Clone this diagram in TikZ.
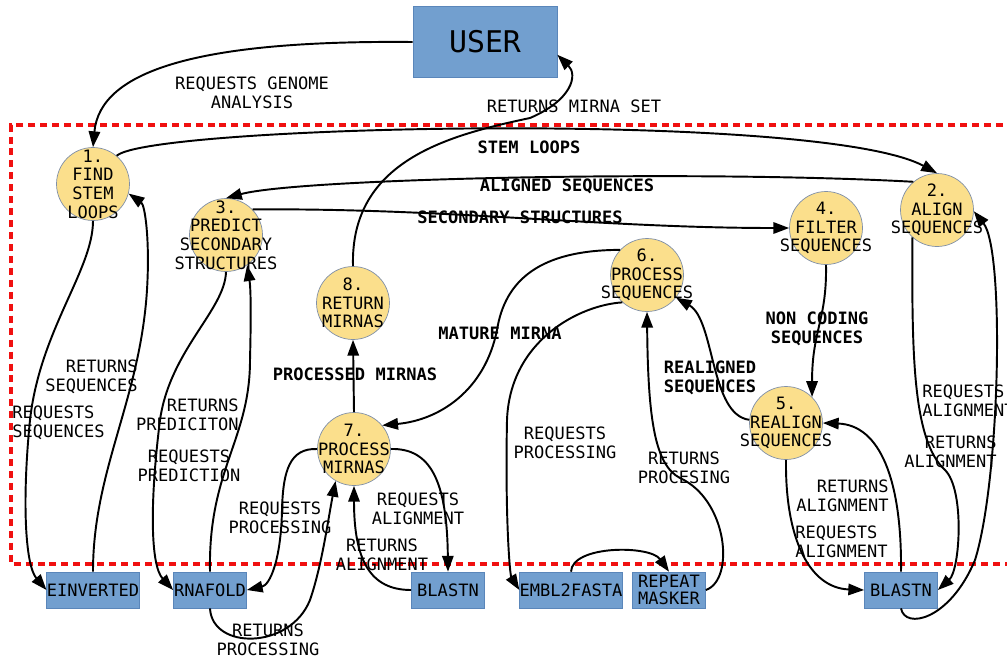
\documentclass[tikz,border=0pt]{standalone}
\usepackage{fontspec}
\setmonofont{DejaVu Sans Mono}
\usetikzlibrary{arrows.meta}
\definecolor{procfill}{HTML}{FBDF8C}
\definecolor{procline}{HTML}{8090A8}
\definecolor{extfill}{HTML}{729FCF}
\definecolor{extline}{HTML}{5A86BA}
\definecolor{bound}{HTML}{F01010}

\begin{document}
\begin{tikzpicture}[x=0.02cm, y=-0.02cm,
  every node/.style={font=\ttfamily\fontsize{9.7}{10.6}\selectfont},
  proc/.style={circle, draw=procline, fill=procfill, minimum size=1.46cm, inner sep=-22pt, align=center},
  ext/.style={draw=extline, fill=extfill, minimum width=1.46cm, minimum height=0.72cm, inner sep=0pt, align=center, font=\ttfamily\fontsize{9.7}{9.6}\selectfont},
  flow/.style={line width=1.1pt, -{Triangle[length=9pt,width=6.5pt]}},
  lbl/.style={align=center, inner sep=0pt},
  blbl/.style={lbl, font=\ttfamily\bfseries\fontsize{9.7}{10.8}\selectfont}]
\useasboundingbox (0,0) rectangle (1007,660);
\draw[bound, line width=2pt, dash pattern=on 4pt off 2.8pt] (1015,125) -| (11,564) -- (1015,564);

\path (485,42) node[ext, minimum width=2.88cm, minimum height=1.42cm, font=\ttfamily\fontsize{17}{18}\selectfont] (user) {USER};

\path (93,184) node[proc] (find) {1.\\FIND\\STEM\\LOOPS};
\path (937,210) node[proc] (align) {2.\\ALIGN\\SEQUENCES};
\path (226,235) node[proc] (predict) {3.\\PREDICT\\SECONDARY\\STRUCTURES};
\path (826,228) node[proc] (filter) {4.\\FILTER\\SEQUENCES};
\path (786,423) node[proc] (realign) {5.\\REALIGN\\SEQUENCES};
\path (647,275) node[proc] (procseq) {6.\\PROCESS\\SEQUENCES};
\path (354,449) node[proc] (procmir) {7.\\PROCESS\\MIRNAS};
\path (353,303) node[proc] (retmir) {8.\\RETURN\\MIRNAS};

\path (93,590) node[ext] (einv) {EINVERTED};
\path (210,590) node[ext] (rnafold) {RNAFOLD};
\path (448,590) node[ext] (blastA) {BLASTN};
\path (571,590) node[ext] (embl) {EMBL2FASTA};
\path (669,590) node[ext] (repeat) {REPEAT\\MASKER};
\path (901,590) node[ext] (blastB) {BLASTN};

\draw[flow] (user.west) .. controls (200,40) and (100,70) .. (find.north);
\draw[flow] (retmir.north) .. controls (350,160) and (450,135) .. (530,118) .. controls (572,100) and (578,75) .. (user.-10);
\draw[flow] (find.50) .. controls (150,125) and (820,110) .. (align.north);
\draw[flow] (align.130) .. controls (700,170) and (300,178) .. (predict.north);
\draw[flow] (predict.44) .. controls (450,208) and (600,228) .. (filter.west);
\draw[flow] (filter.south) .. controls (827,320) and (812,330) .. (realign.45);
\draw[flow] (realign.175) .. controls (710,415) and (715,320) .. (procseq.-38);
\draw[flow] (procseq.137) .. controls (540,250) and (505,280) .. (497,330) .. controls (485,390) and (440,420) .. (procmir.40);
\draw[flow] (procmir.north) -- (retmir.south);

\draw[flow] (find.south) .. controls (93,270) and (40,330) .. (30,420) .. controls (22,500) and (25,565) .. (einv.west);
\draw[flow] (einv.north) .. controls (93,470) and (140,400) .. (147,290) .. controls (150,240) and (145,205) .. (find.-15);
\draw[flow] (predict.south) .. controls (225,310) and (170,350) .. (160,420) .. controls (150,500) and (150,565) .. (rnafold.west);
\draw[flow] (rnafold.north) .. controls (208,470) and (250,440) .. (250,360) .. controls (251,320) and (251,290) .. (predict.-55);
\draw[flow] (procmir.west) .. controls (290,448) and (283,470) .. (282,510) .. controls (281,560) and (270,585) .. (rnafold.east);
\draw[flow] (rnafold.south) .. controls (212,650) and (290,650) .. (310,600) .. controls (322,565) and (328,520) .. (procmir.-120);
\draw[flow] (procmir.east) .. controls (430,448) and (447,480) .. (blastA.north);
\draw[flow] (blastA.west) .. controls (370,590) and (354,560) .. (procmir.south);
\draw[flow] (procseq.228) .. controls (580,305) and (510,340) .. (507,420) .. controls (505,520) and (510,575) .. (embl.west);
\draw[flow] (embl.north) .. controls (572,545) and (650,545) .. (repeat.north);
\draw[flow] (repeat.east) .. controls (735,580) and (728,500) .. (680,478) .. controls (655,465) and (648,420) .. (procseq.south);
\draw[flow] (realign.south) .. controls (785,540) and (810,588) .. (blastB.west);
\draw[flow] (blastB.north) .. controls (902,480) and (880,425) .. (realign.east);
\draw[flow] (align.228) .. controls (912,350) and (912,440) .. (945,470) .. controls (965,490) and (960,570) .. (blastB.east);
\draw[flow] (blastB.south) .. controls (905,630) and (950,620) .. (975,560) .. controls (1000,480) and (1005,250) .. (align.-2);

\path (252,93) node[lbl] (lgenome) {REQUESTS GENOME\\ANALYSIS};
\path (574,106) node[lbl] (lmirset) {RETURNS MIRNA SET};
\path (529,147) node[blbl] (lstem) {STEM LOOPS};
\path (567,186) node[blbl] (laligned) {ALIGNED SEQUENCES};
\path (520,217) node[blbl] (lsecond) {SECONDARY STRUCTURES};
\path (817,329) node[blbl] (lnoncod) {NON CODING\\SEQUENCES};
\path (710,378) node[blbl] (lrealign) {REALIGNED\\SEQUENCES};
\path (500,333) node[blbl] (lmature) {MATURE MIRNA};
\path (355,374) node[blbl] (lprocmir) {PROCESSED MIRNAS};

\path (138,377) node[lbl, align=right, anchor=east] (lretseq) {RETURNS\\SEQUENCES};
\path (12,423) node[lbl, align=left, anchor=west] (lreqseq) {REQUESTS\\SEQUENCES};
\path (239,415) node[lbl, align=right, anchor=east] (lretpred) {RETURNS\\PREDICITON};
\path (189,466) node[lbl] (lreqpred) {REQUESTS\\PREDICTION};
\path (280,518) node[lbl] (lreqproc) {REQUESTS\\PROCESSING};
\path (268,640) node[lbl] (lretproc) {RETURNS\\PROCESSING};
\path (418,509) node[lbl] (lreqalA) {REQUESTS\\ALIGNMENT};
\path (382,555) node[lbl] (lretalA) {RETURNS\\ALIGNMENT};
\path (565,443) node[lbl] (lreqembl) {REQUESTS\\PROCESSING};
\path (684,468) node[lbl] (lretrep) {RETURNS\\PROCESING};
\path (889,496) node[lbl, align=right, anchor=east] (lretalB) {RETURNS\\ALIGNMENT};
\path (795,542) node[lbl, align=left, anchor=west] (lreqalB) {REQUESTS\\ALIGNMENT};
\path (922,401) node[lbl, align=left, anchor=west] (lreqalC) {REQUESTS\\ALIGNMENT};
\path (997,452) node[lbl, align=right, anchor=east] (lretalC) {RETURNS\\ALIGNMENT};
\end{tikzpicture}
\end{document}
